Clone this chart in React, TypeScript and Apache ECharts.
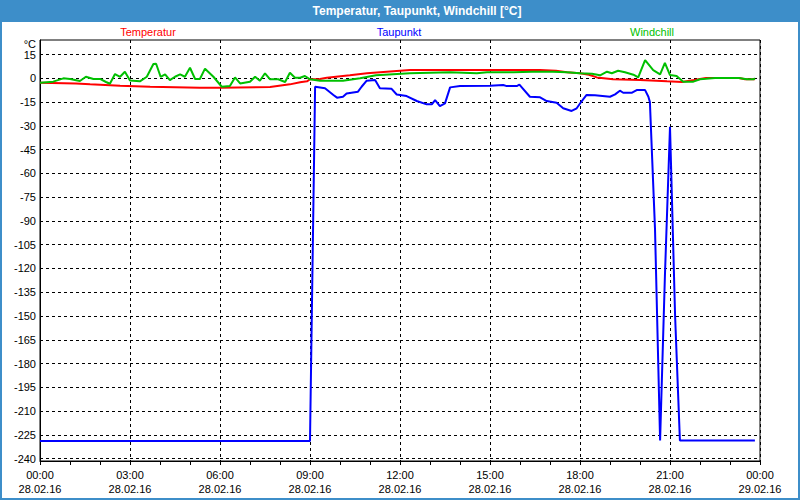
import React, { useEffect, useRef } from "react";
import * as echarts from "echarts";

const titleText = "Temperatur, Taupunkt, Windchill [°C]";
const seriesNames = ["Temperatur", "Taupunkt", "Windchill"];

const yTicks = [-240, -225, -210, -195, -180, -165, -150, -135, -120, -105, -90, -75, -60, -45, -30, -15, 0, 15];
const xTicks = [0, 3, 6, 9, 12, 15, 18, 21, 24];
const xTimeLabels = ["00:00", "03:00", "06:00", "09:00", "12:00", "15:00", "18:00", "21:00", "00:00"];
const xDateLabels = ["28.02.16", "28.02.16", "28.02.16", "28.02.16", "28.02.16", "28.02.16", "28.02.16", "28.02.16", "29.02.16"];

// hours since 28.02.16 00:00
const tempTimes = [0, 1.2, 1.67, 2.67, 3.67, 5.33, 6, 7.67, 8.33, 8.67, 8.9, 9, 9.33, 9.56, 10.33, 10.9, 11.56, 12.33, 16.67, 17.2, 17.56, 18, 18.3, 18.56, 19.1, 20, 20.9, 21.4, 21.8, 22, 22.2, 23.3, 23.5, 23.83];
const tempValues = [-2.8, -3.2, -3.8, -4.7, -5.3, -5.9, -5.9, -5.5, -3.8, -2.5, -1.9, -0.6, -0.4, 0.4, 1.9, 3.2, 4.2, 5.2, 5.2, 4.8, 3.9, 3.2, 2.3, 0.6, -0.6, -1.1, -1.9, -2.3, -1.1, -0.4, 0.2, 0.2, -0.6, -0.6];

const dewTimes = [0, 9.0, 9.17, 9.5, 9.78, 9.9, 10.1, 10.22, 10.6, 10.72, 10.89, 11.17, 11.33, 11.72, 11.89, 12.22, 12.56, 12.89, 13.06, 13.17, 13.33, 13.5, 13.67, 14.0, 15.0, 15.44, 15.56, 15.89, 15.98, 16.33, 16.67, 16.89, 17.22, 17.44, 17.72, 17.89, 18.06, 18.22, 18.5, 19.0, 19.17, 19.33, 19.44, 19.72, 19.89, 20.17, 20.28, 20.33, 20.5, 20.67, 20.83, 21.0, 21.17, 21.33, 23.83];
const dewValues = [-228.8, -228.8, -5.3, -6.3, -10.5, -12.2, -11.6, -9.5, -8.4, -5.3, -1.5, -1.1, -6.3, -6.6, -10.2, -11.2, -14.3, -16.4, -16.4, -13.7, -17.5, -15.8, -5.7, -4.9, -4.7, -4.2, -4.9, -4.9, -4.0, -11.6, -12.0, -14.3, -15.4, -18.9, -20.6, -18.9, -14.3, -10.5, -10.7, -11.6, -10.1, -7.8, -9.1, -9.1, -7.4, -7.4, -11.6, -15.0, -95, -228.5, -125, -30.5, -150, -228.5, -228.5];

const windTimes = [0, 0.44, 0.78, 1, 1.33, 1.53, 1.78, 2, 2.2, 2.33, 2.5, 2.67, 2.83, 3, 3.33, 3.56, 3.78, 3.87, 4.02, 4.17, 4.33, 4.5, 4.67, 4.83, 5, 5.17, 5.33, 5.5, 5.78, 6.06, 6.33, 6.5, 6.67, 7, 7.17, 7.33, 7.5, 7.67, 7.94, 8.17, 8.33, 8.5, 8.67, 8.83, 9, 9.33, 10.1, 10.67, 11.2, 12.33, 13.67, 14.56, 14.9, 15.78, 16.4, 17.1, 17.56, 18, 18.4, 18.67, 18.9, 19.06, 19.27, 19.5, 19.78, 19.94, 20.17, 20.44, 20.67, 20.83, 21, 21.22, 21.44, 21.78, 22, 22.2, 22.5, 23.3, 23.56, 23.78, 23.83];
const windValues = [-2.8, -2.1, 0, -0.4, -1.7, 1.0, -0.4, -0.4, -2.3, -3.4, 2.7, 1.0, 4.2, -1.3, -1.9, 1.0, 9.0, 9.2, 1.0, 2.5, -1.1, 1.0, 2.5, 1.0, 6.7, -0.4, -0.4, 6.1, 1.0, -5.3, -4.9, 0.6, -3.2, -2.1, 1.0, -1.5, 3.2, -0.6, -0.6, -2.3, 3.5, 0.4, 0.4, 1.5, -0.6, -1.5, -1.5, 0, 1.9, 3.2, 3.8, 3.2, 3.8, 3.8, 4.2, 4.2, 3.8, 3.2, 2.9, 1.9, 4.2, 3.2, 4.8, 3.8, 2.3, 0.6, 11.5, 5.2, 2.5, 9.8, 2.1, 1.5, -2.1, -2.1, -0.6, -0.3, 0.2, 0.2, -0.6, -0.6, 0];

const colors = ["#ff0000", "#0000ff", "#00c000"];
const FONT = "Liberation Sans";

export default function App() {
  const ref = useRef<HTMLDivElement>(null);

  useEffect(() => {
    if (!ref.current) return;
    const chart = echarts.init(ref.current, null, { renderer: "svg" });
    const pair = (ts: number[], vs: number[]) => ts.map((t, i) => [t, vs[i]]);
    const dashed = { color: "#000", type: [3, 3] as any, width: 1 };

    chart.setOption({
      animation: false,
      backgroundColor: "#ffffff",
      textStyle: { fontFamily: FONT },
      grid: {
        left: 40,
        top: 40,
        width: 720,
        height: 421,
        show: true,
        borderColor: "#000",
        borderWidth: 1,
        backgroundColor: "#fff",
        containLabel: false,
      },
      xAxis: {
        type: "value",
        min: 0,
        max: 24,
        interval: 3,
        axisLine: { show: true, onZero: false, lineStyle: { color: "#000", width: 1 } },
        axisTick: { show: true, length: 4, inside: false, lineStyle: { color: "#000" } },
        minorTick: { show: true, splitNumber: 3, length: 4, lineStyle: { color: "#000", width: 1 } },
        minorSplitLine: { show: false },
        splitLine: { show: true, lineStyle: dashed },
        axisLabel: {
          margin: 7,
          color: "#000",
          fontFamily: FONT,
          fontSize: 11,
          lineHeight: 14,
          formatter: (v: number) => {
            const i = xTicks.indexOf(v);
            return i >= 0 ? xTimeLabels[i] + "\n" + xDateLabels[i] : "";
          },
        },
      },
      yAxis: {
        type: "value",
        min: -241.5,
        max: 24.2,
        axisLine: { show: true, onZero: false, lineStyle: { color: "#000", width: 1 } },
        axisTick: { show: false, customValues: yTicks },
        splitLine: { show: true, lineStyle: dashed },
        axisLabel: {
          customValues: yTicks,
          margin: 4,
          color: "#000",
          fontFamily: FONT,
          fontSize: 11,
          formatter: (v: number) => String(v),
        },
      },
      graphic: [
        { type: "rect", shape: { x: 0, y: 0, width: 800, height: 22 }, style: { fill: "#3d8ec9" }, silent: true },
        { type: "rect", shape: { x: 1, y: 1, width: 798, height: 498 }, style: { fill: "none", stroke: "#3d8ec9", lineWidth: 2 }, silent: true },
        { type: "text", x: 417, y: 11, style: { text: titleText, fill: "#fff", font: `bold 12px "${FONT}"`, textAlign: "center", textVerticalAlign: "middle" } },
        { type: "text", x: 148, y: 32, style: { text: seriesNames[0], fill: colors[0], font: `11px "${FONT}"`, textAlign: "center", textVerticalAlign: "middle" } },
        { type: "text", x: 399, y: 32, style: { text: seriesNames[1], fill: colors[1], font: `11px "${FONT}"`, textAlign: "center", textVerticalAlign: "middle" } },
        { type: "text", x: 652, y: 32, style: { text: seriesNames[2], fill: colors[2], font: `11px "${FONT}"`, textAlign: "center", textVerticalAlign: "middle" } },
        { type: "text", x: 36, y: 43.5, style: { text: "°C", fill: "#000", font: `11px "${FONT}"`, textAlign: "right", textVerticalAlign: "middle" } },
      ],
      series: [
        { name: seriesNames[0], type: "line", data: pair(tempTimes, tempValues), showSymbol: false, symbol: "none", lineStyle: { color: colors[0], width: 2 }, itemStyle: { color: colors[0] }, z: 3 },
        { name: seriesNames[1], type: "line", data: pair(dewTimes, dewValues), showSymbol: false, symbol: "none", lineStyle: { color: colors[1], width: 2 }, itemStyle: { color: colors[1] }, z: 4 },
        { name: seriesNames[2], type: "line", data: pair(windTimes, windValues), showSymbol: false, symbol: "none", lineStyle: { color: colors[2], width: 2 }, itemStyle: { color: colors[2] }, z: 5 },
      ],
    });
    return () => chart.dispose();
  }, []);

  return <div ref={ref} style={{ position: "fixed", left: 0, top: 0, width: 800, height: 500, background: "#fff" }} />;
}
